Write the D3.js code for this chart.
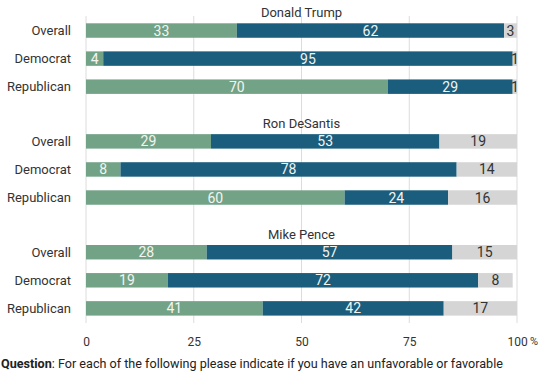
<!DOCTYPE html>
<html>
<head>
<meta charset="utf-8">
<script src="https://cdn.jsdelivr.net/npm/d3@7"></script>
<style>
  body { margin: 0; background: #fff; }
  text { font-family: Roboto, "Noto Sans", sans-serif; }
</style>
</head>
<body>
<div id="canvas"></div>
<script>
const candidates = ["Donald Trump", "Ron DeSantis", "Mike Pence"];
const groups = ["Overall", "Democrat", "Republican"];
// one row per candidate, one value per group (percent)
const favorable = [[35, 4, 70], [29, 8, 60], [28, 19, 41]];
const unfavorable = [[62, 95, 29], [53, 78, 24], [57, 72, 42]];
const unsure = [[3, 1, 1], [19, 14, 16], [15, 8, 17]];
// printed numbers (the Trump overall green bar is drawn wider than its label)
const favorableText = [[33, 4, 70], [29, 8, 60], [28, 19, 41]];
const xTicks = [0, 25, 50, 75, 100];
const question = "For each of the following please indicate if you have an unfavorable or favorable";

const width = 544;
const height = 374;
const colors = { fav: "#72a387", unfav: "#1a5d7c", unsure: "#d5d5d5" };

const svg = d3.select("#canvas").append("svg")
  .attr("width", width)
  .attr("height", height);

const x = d3.scaleLinear().domain([0, 100]).range([86, 517]).clamp(true);
const panelY = d3.scalePoint().domain(candidates).range([23.3, 245]);
const rowY = d3.scaleBand().domain(groups).range([0, 70.6]).paddingInner(0.485);

// gridlines
svg.append("g")
  .selectAll("line")
  .data(xTicks)
  .enter()
  .append("line")
  .attr("x1", (d) => x(d))
  .attr("x2", (d) => x(d))
  .attr("y1", 16)
  .attr("y2", 323)
  .style("stroke", "#dcdcdc")
  .style("stroke-width", 1);

// build segments
const segments = [];
candidates.forEach((c, i) => {
  groups.forEach((g, j) => {
    let start = 0;
    [
      { key: "fav", v: favorable[i][j], label: favorableText[i][j] },
      { key: "unfav", v: unfavorable[i][j], label: unfavorable[i][j] },
      { key: "unsure", v: unsure[i][j], label: unsure[i][j] },
    ].forEach((s) => {
      segments.push({ cand: c, group: g, key: s.key, x0: start, x1: start + s.v, label: s.label });
      start += s.v;
    });
  });
});

const panels = svg.selectAll(".panel")
  .data(candidates)
  .enter()
  .append("g")
  .attr("class", "panel")
  .attr("transform", (d) => `translate(0,${panelY(d)})`);

panels.append("text")
  .attr("x", (x(0) + x(100)) / 2)
  .attr("y", -6)
  .attr("text-anchor", "middle")
  .style("font-size", "13px")
  .style("fill", "#333")
  .text((d) => d);

panels.selectAll(".cat")
  .data(groups)
  .enter()
  .append("text")
  .attr("class", "cat")
  .attr("x", 71)
  .attr("y", (d) => rowY(d) + rowY.bandwidth() / 2)
  .attr("dy", "0.35em")
  .attr("text-anchor", "end")
  .style("font-size", "13px")
  .style("fill", "#333")
  .text((d) => d);

panels.each(function (c) {
  const g = d3.select(this);
  const segs = segments.filter((s) => s.cand === c);

  g.selectAll(".bar")
    .data(segs)
    .enter()
    .append("rect")
    .attr("class", "bar")
    .attr("x", (d) => x(d.x0))
    .attr("y", (d) => rowY(d.group))
    .attr("width", (d) => Math.max(0, x(d.x1) - x(d.x0)))
    .attr("height", rowY.bandwidth())
    .style("fill", (d) => colors[d.key]);

  g.selectAll(".val")
    .data(segs)
    .enter()
    .append("text")
    .attr("class", "val")
    .attr("x", (d) => (x(d.x0) + x(d.x1)) / 2)
    .attr("y", (d) => rowY(d.group) + rowY.bandwidth() / 2)
    .attr("dy", "0.36em")
    .attr("text-anchor", "middle")
    .style("font-size", "14px")
    .style("fill", (d) => (d.key === "unsure" ? "#333" : "#f4f4f0"))
    .text((d) => d.label);
});

// x axis labels
const axis = svg.append("g")
  .attr("transform", "translate(0,323)")
  .call(d3.axisBottom(x).tickValues(xTicks).tickSize(0).tickPadding(14));
axis.select(".domain").remove();
axis.selectAll("text")
  .style("font-size", "12px")
  .style("font-family", "Roboto, sans-serif")
  .style("fill", "#333");

axis.append("text")
  .attr("x", x(100) + 13)
  .attr("y", 14)
  .attr("dy", "0.71em")
  .attr("text-anchor", "start")
  .style("font-size", "11px")
  .style("fill", "#333")
  .text("%");

// footnote
const note = svg.append("text")
  .attr("x", 1)
  .attr("y", 368)
  .style("font-size", "12.6px")
  .style("fill", "#222");
note.append("tspan").style("font-weight", "bold").text("Question");
note.append("tspan").text(": " + question);
</script>
</body>
</html>
